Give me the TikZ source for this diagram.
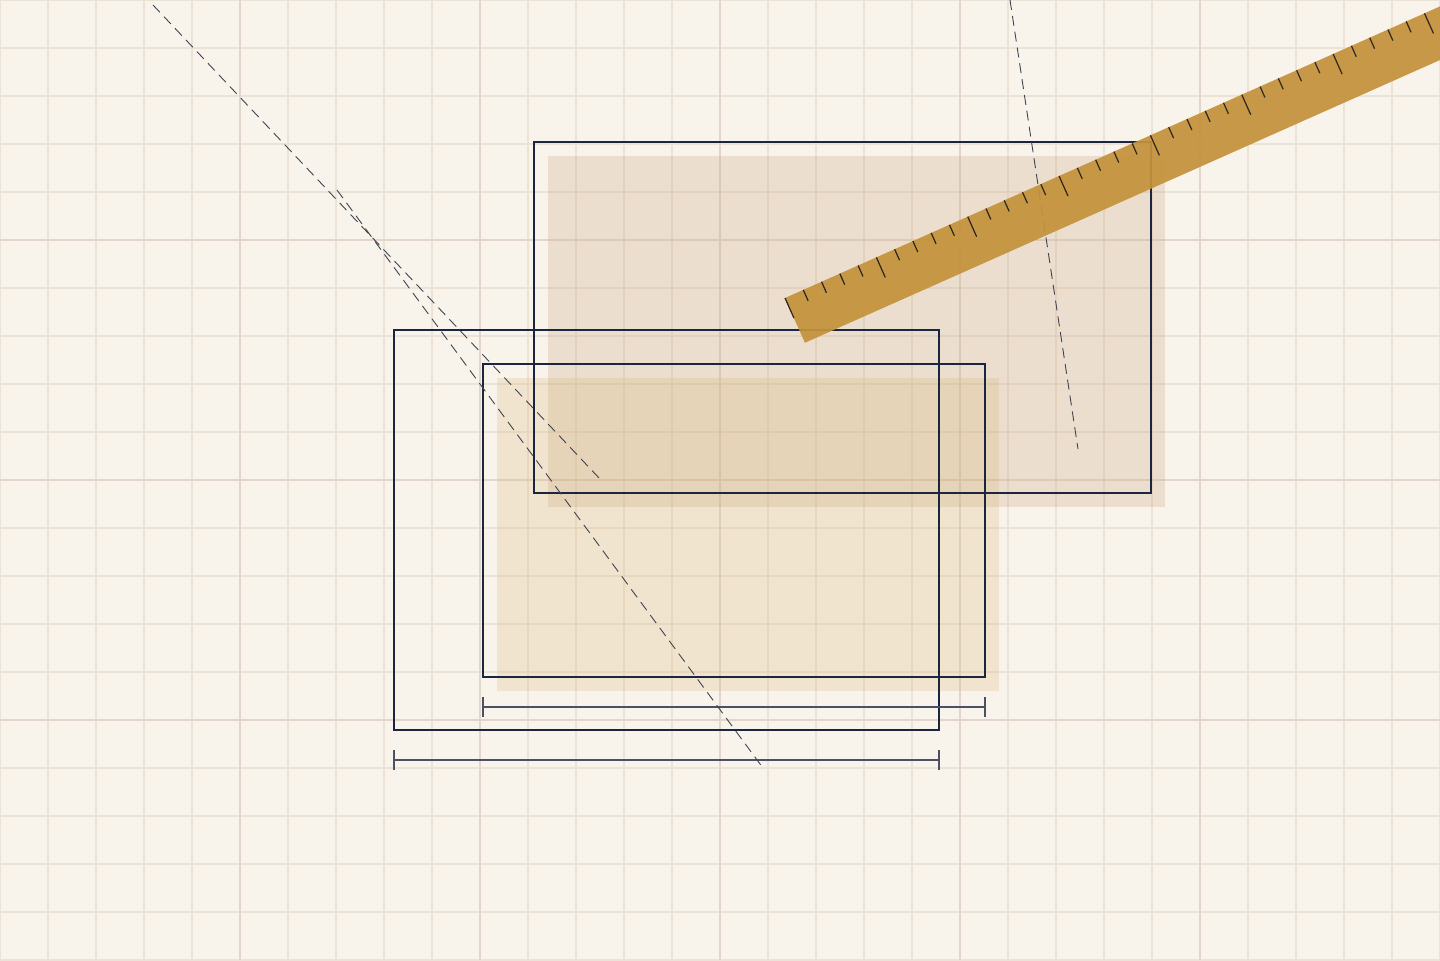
\documentclass[tikz,border=0pt]{standalone}
\usepackage{tikz}

\definecolor{paper}{HTML}{F9F4EB}
\definecolor{gridminor}{HTML}{ECE2D6}
\definecolor{gridmajor}{HTML}{E2D6CA}
\definecolor{ink}{HTML}{1B2540}
\definecolor{dimink}{HTML}{4B5162}
\definecolor{guide}{HTML}{3F4450}
\definecolor{clayfill}{HTML}{C9A07A}
\definecolor{sandfill}{HTML}{D8B878}
\definecolor{rulergold}{HTML}{C4923B}
\definecolor{tickink}{HTML}{2B2620}

\tikzset{
    frame/.style={draw=ink, line width=1.1pt},
    shadow/.style={fill opacity=0.25},
    dimline/.style={draw=dimink, line width=0.9pt},
    guideline/.style={draw=guide, line width=0.45pt, dash pattern=on 5pt off 3pt}
}

\begin{document}
\begin{tikzpicture}[x=0.5pt,y=-0.5pt]
    % paper
    \useasboundingbox (0,0) rectangle (1440,960);
    \clip (0,0) rectangle (1440,960);
    \fill[paper] (0,0) rectangle (1440,960);
    % grid
    \foreach \x in {0,48,...,1440} {
        \draw[gridminor, line width=0.6pt] (\x,0) -- (\x,960);
    }
    \foreach \y in {0,48,...,960} {
        \draw[gridminor, line width=0.6pt] (0,\y) -- (1440,\y);
    }
    \foreach \x in {240,480,...,1200} {
        \draw[gridmajor, line width=0.8pt] (\x,0) -- (\x,960);
    }
    \foreach \y in {240,480,720} {
        \draw[gridmajor, line width=0.8pt] (0,\y) -- (1440,\y);
    }
    % tinted copies
    \fill[clayfill, shadow] (548,156) rectangle (1165,507);
    \fill[sandfill, shadow] (497,378) rectangle (999,691);
    % frames
    \draw[frame] (534,142) rectangle (1151,493);
    \draw[frame] (394,330) rectangle (939,730);
    \draw[frame] (483,364) rectangle (985,677);
    % widths
    \draw[dimline] (483,707) -- (985,707);
    \draw[dimline] (483,697) -- (483,717);
    \draw[dimline] (985,697) -- (985,717);
    \draw[dimline] (394,760) -- (939,760);
    \draw[dimline] (394,750) -- (394,770);
    \draw[dimline] (939,750) -- (939,770);
    % guides
    \draw[guideline] (153,5) -- (600,479);
    \draw[guideline] (337,190) -- (763,768);
    \draw[guideline] (1010,0) -- (1078,449);
    % ruler
    \begin{scope}[shift={(785,298)}, rotate=24]
        \fill[rulergold, opacity=0.93] (0,0) rectangle (820,49);
        \foreach \i in {0,...,40} {
            \pgfmathsetmacro{\len}{mod(\i,5)==0 ? 22 : 12}
            \draw[tickink, line width=0.6pt] (20*\i,0) -- (20*\i,\len);
        }
    \end{scope}
\end{tikzpicture}
\end{document}
